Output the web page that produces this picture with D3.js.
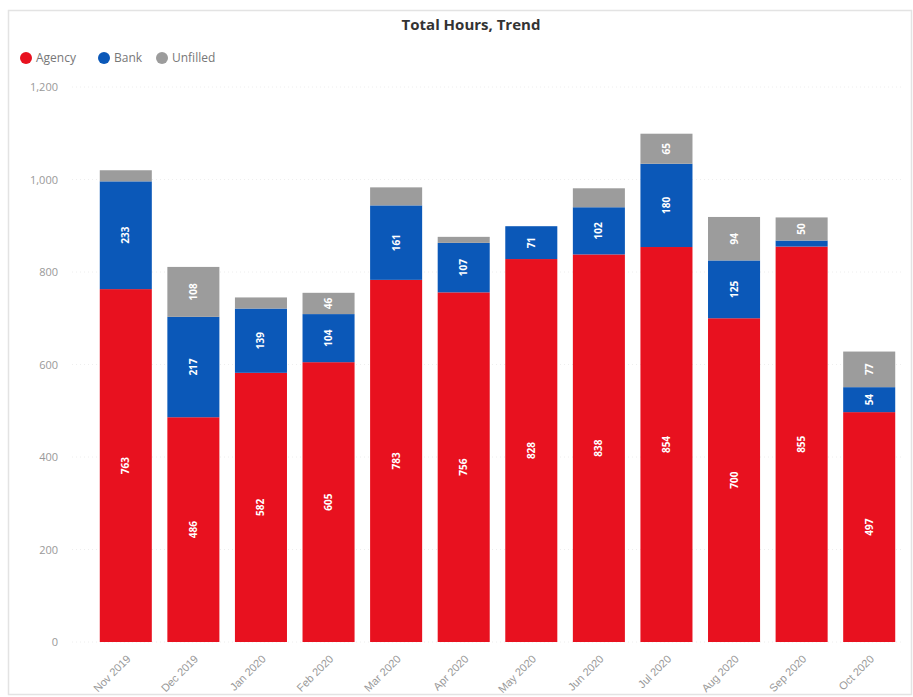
<!DOCTYPE html>
<html><head><meta charset="utf-8">
<script src="https://cdn.jsdelivr.net/npm/d3@7"></script>
<style>
body{margin:0;background:#fff;font-family:"Open Sans","Noto Sans",sans-serif;}
</style></head>
<body><svg id="c" width="913" height="697"></svg>
<script>
const months = ["Nov 2019","Dec 2019","Jan 2020","Feb 2020","Mar 2020","Apr 2020","May 2020","Jun 2020","Jul 2020","Aug 2020","Sep 2020","Oct 2020"];
const agency = [763, 486, 582, 605, 783, 756, 828, 838, 854, 700, 855, 497];
const bank = [233, 217, 139, 104, 161, 107, 71, 102, 180, 125, 13, 54];
const unfilled = [24, 108, 24, 46, 39, 13, 0, 41, 65, 94, 50, 77];
const seriesNames = ["Agency","Bank","Unfilled"];
const seriesColors = ["#E8111F","#0B58B8","#9C9C9C"];
const yTicks = [0,200,400,600,800,1000,1200];

const svg = d3.select("#c");
// frame
svg.append("rect").attr("x",8.5).attr("y",10.5).attr("width",903).attr("height",684)
  .attr("fill","none").attr("stroke","#e3e3e3").attr("stroke-width",1.5);

svg.append("text").attr("x",471).attr("y",30).attr("text-anchor","middle")
  .attr("font-size",15).attr("font-weight",700).attr("fill","#333").text("Total Hours, Trend");

// legend
const leg = svg.append("g").attr("transform","translate(20,58)");
const legX = [0, 78, 136];
seriesNames.forEach((n,i)=>{
  const g = leg.append("g").attr("transform",`translate(${legX[i]},0)`);
  g.append("circle").attr("cx",6).attr("cy",0).attr("r",6).attr("fill",seriesColors[i]);
  g.append("text").attr("x",16).attr("y",4).attr("font-size",12).attr("fill","#777").text(n);
});

const data = months.map((m,i)=>({month:m, Agency:agency[i], Bank:bank[i], Unfilled:unfilled[i]}));
const stack = d3.stack().keys(seriesNames)(data);

const x = d3.scaleBand().domain(months).range([92,903]).paddingInner(0.23).paddingOuter(0.115);
const y = d3.scaleLinear().domain([0,1200]).range([642,87]);

// gridlines
svg.append("g").selectAll("line").data(yTicks).join("line")
  .attr("x1",72).attr("x2",903).attr("y1",d=>y(d)).attr("y2",d=>y(d))
  .attr("stroke","#eeeeee").attr("stroke-dasharray","1,3");

// y axis
const yAxis = svg.append("g").attr("transform","translate(61,0)")
  .call(d3.axisLeft(y).tickValues(yTicks).tickSize(0).tickFormat(d3.format(",")));
yAxis.select(".domain").remove();
yAxis.selectAll("text").attr("font-size",11).attr("fill","#999").attr("font-family","'Open Sans',sans-serif");

// bars
const layers = svg.append("g").selectAll("g").data(stack).join("g")
  .attr("fill",(d,i)=>seriesColors[i]);
layers.selectAll("rect").data(d=>d).join("rect")
  .attr("x",d=>x(d.data.month)).attr("width",x.bandwidth())
  .attr("y",d=>y(d[1])).attr("height",d=>Math.max(0,y(d[0])-y(d[1])));

// labels
stack.forEach((s)=>{
  s.forEach(d=>{
    const v = d[1]-d[0];
    const h = y(d[0])-y(d[1]);
    if (v<=0 || h<19) return;
    const cx = x(d.data.month)+x.bandwidth()/2;
    const cy = (y(d[0])+y(d[1]))/2;
    svg.append("text").attr("transform",`translate(${cx},${cy}) rotate(-90)`)
      .attr("text-anchor","middle").attr("dy","0.35em")
      .attr("font-size",10).attr("font-weight",700).attr("fill","#fff").text(v);
  });
});

// x axis
const xAxis = svg.append("g").attr("transform","translate(0,648)")
  .call(d3.axisBottom(x).tickSize(0));
xAxis.select(".domain").remove();
xAxis.selectAll("text").attr("font-size",11).attr("fill","#999")
  .attr("text-anchor","end").attr("transform","translate(-2,4) rotate(-45)").attr("dy","0.7em");
</script></body></html>
